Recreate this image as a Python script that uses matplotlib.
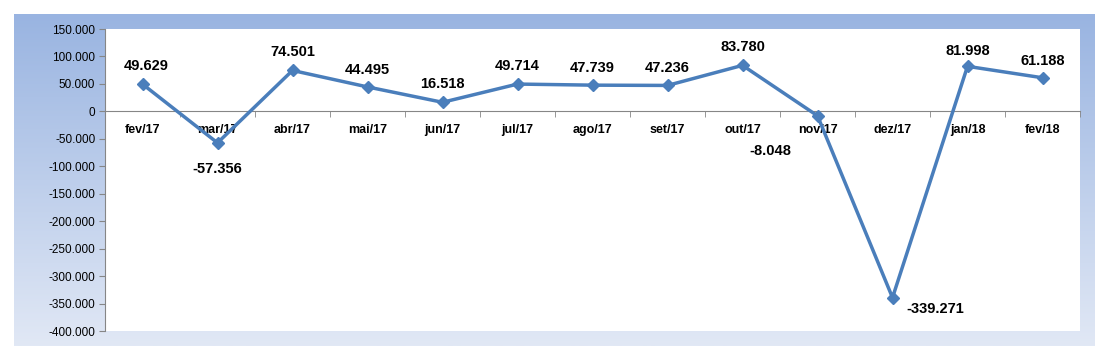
import matplotlib.pyplot as plt
import numpy as np
from matplotlib.colors import LinearSegmentedColormap
from matplotlib.ticker import FuncFormatter, FixedLocator

months = ["fev/17", "mar/17", "abr/17", "mai/17", "jun/17", "jul/17", "ago/17",
          "set/17", "out/17", "nov/17", "dez/17", "jan/18", "fev/18"]
values = [49629, -57356, 74501, 44495, 16518, 49714, 47739,
          47236, 83780, -8048, -339271, 81998, 61188]
# label offsets in pixels (dx, dy) from each point
label_offsets = [(4, 18), (0, -26), (0, 18), (0, 17), (0, 18), (0, 18), (0, 17),
                 (0, 17), (0, 18), (-47, -35), (43, -11), (0, 15), (0, 17)]

W, H = 1109, 360
fig = plt.figure(figsize=(W / 100, H / 100), dpi=100)
fig.patch.set_facecolor("white")

# gradient frame behind the chart
bg = fig.add_axes([14 / W, 1 - 346 / H, (1095 - 14) / W, (346 - 14) / H])
cmap = LinearSegmentedColormap.from_list("bg", ["#99B4E1", "#E1E8F5"])
bg.imshow(np.linspace(0, 1, 256).reshape(-1, 1), aspect="auto", cmap=cmap,
          extent=[0, 1, 0, 1])
bg.set_axis_off()

ax = fig.add_axes([105 / W, 1 - 331 / H, (1080 - 105) / W, (331 - 29) / H])
ax.set_facecolor("white")

x = np.arange(len(months))
ax.plot(x, values, color="#4A7EBB", linewidth=2.5, marker="D", markersize=6,
        zorder=3, clip_on=False)

for xi, v, (dx, dy) in zip(x, values, label_offsets):
    label = f"{v:,.0f}".replace(",", ".")
    ax.annotate(label, (xi, v), xytext=(dx, dy), textcoords="offset pixels",
                ha="center", va="center", fontsize=10.5, fontweight="bold",
                family="Liberation Sans", color="black")

ax.set_xlim(-0.5, len(months) - 0.5)
ax.set_ylim(-400000, 150000)
ax.yaxis.set_major_locator(FixedLocator(np.arange(-400000, 150001, 50000)))
ax.yaxis.set_major_formatter(
    FuncFormatter(lambda v, p: "0" if v == 0 else f"{v:,.0f}".replace(",", ".")))
ax.tick_params(axis="y", direction="out", length=4, color="#868686",
               labelsize=8.5, pad=3)
for t in ax.get_yticklabels():
    t.set_family("Liberation Sans")

ax.spines[["top", "right"]].set_visible(False)
ax.spines["left"].set_color("#868686")
ax.spines["bottom"].set_position(("data", 0))
ax.spines["bottom"].set_color("#868686")

ax.set_xticks(x)
ax.set_xticklabels(months, fontsize=9, fontweight="bold", family="Liberation Sans")
ax.set_xticks(np.arange(-0.5, len(months), 1), minor=True)
ax.tick_params(axis="x", which="major", length=0, pad=9)
ax.tick_params(axis="x", which="minor", direction="out", length=4, color="#868686")

fig.savefig("out.png", dpi=100)
